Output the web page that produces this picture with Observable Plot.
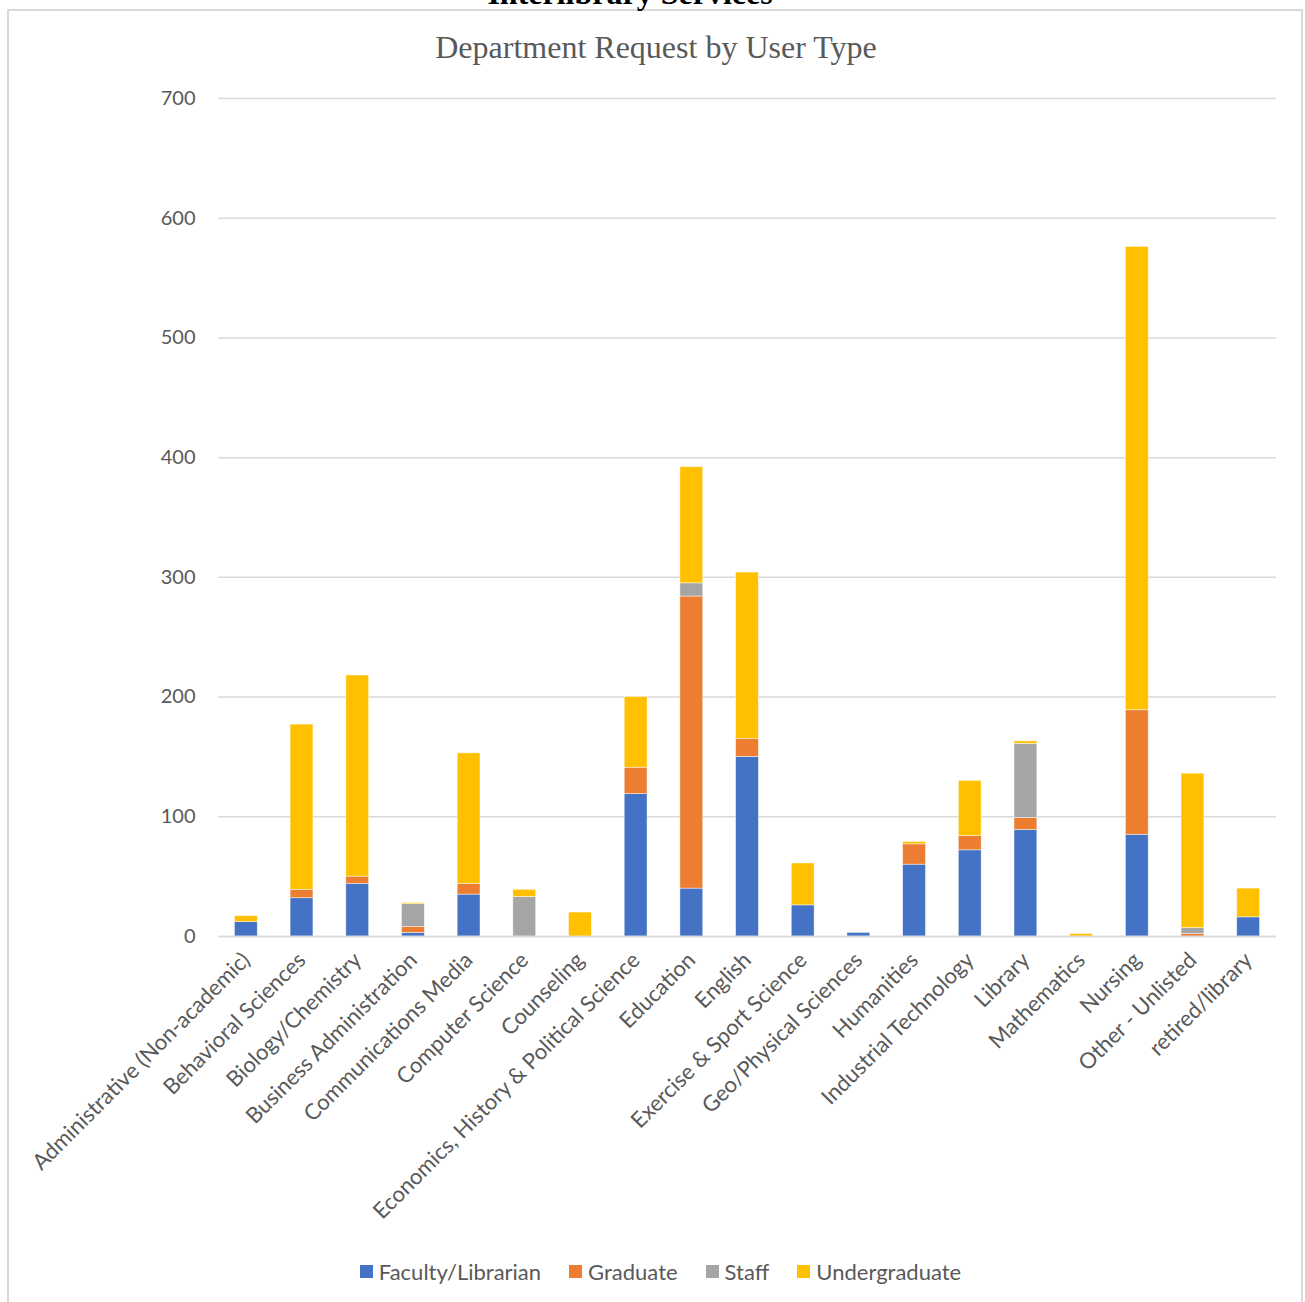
<!DOCTYPE html>
<html>
<head>
<meta charset="utf-8">
<script src="https://cdn.jsdelivr.net/npm/d3@7"></script>
<script src="https://cdn.jsdelivr.net/npm/@observablehq/plot@0.6"></script>
<style>
  html, body { margin: 0; padding: 0; background: #fff; }
  #page { position: relative; width: 1305px; height: 1302px; overflow: hidden; background: #fff; }
  #frame { position: absolute; left: 7px; top: 9px; width: 1296px; height: 1310px; border: 2px solid #d9d9d9; box-sizing: border-box; }
  #supertitle { position: absolute; left: 0; width: 1260px; top: -24px; line-height: 35px; text-align: center;
    font-family: "Liberation Serif", serif; font-weight: bold; font-size: 32px; color: #000; }
  #title { position: absolute; left: 0; width: 1312px; top: 29px; line-height: 36px; text-align: center;
    font-family: "Liberation Serif", serif; font-size: 32px; color: #595959; }
  #chart { position: absolute; left: 0; top: 0; }
  #legend { position: absolute; left: 0; width: 1321px; top: 1258px; display: flex; justify-content: center; gap: 28px;
    font-family: Lato, sans-serif; font-size: 22px; color: #595959; }
  .item { display: flex; align-items: center; gap: 6px; }
  .sw { width: 13px; height: 13px; display: inline-block; }
</style>
</head>
<body>
<div id="page">
  <div id="frame"></div>
  <div id="supertitle">Interlibrary Services</div>
  <div id="title">Department Request by User Type</div>
  <div id="chart"></div>
  <div id="legend"></div>
</div>
<script>
const depts = [
  "Administrative (Non-academic)", "Behavioral Sciences", "Biology/Chemistry", "Business Administration",
  "Communications Media", "Computer Science", "Counseling", "Economics, History & Political Science",
  "Education", "English", "Exercise & Sport Science", "Geo/Physical Sciences", "Humanities",
  "Industrial Technology", "Library", "Mathematics", "Nursing", "Other - Unlisted", "retired/library"
];
const types = ["Faculty/Librarian", "Graduate", "Staff", "Undergraduate"];
const colors = ["#4472C4", "#ED7D31", "#A5A5A5", "#FFC000"];
const faculty   = [12, 32, 44, 3, 35, 0, 0, 119, 40, 150, 26, 3, 60, 72, 89, 0, 85, 0, 16];
const graduate  = [0, 7, 6, 5, 9, 0, 0, 22, 244, 15, 0, 0, 17, 12, 10, 0, 104, 2, 0];
const staff     = [0, 0, 0, 19, 0, 33, 0, 0, 11, 0, 0, 0, 0, 0, 62, 0, 0, 5, 0];
const undergrad = [5, 138, 168, 1, 109, 6, 20, 59, 97, 139, 35, 0, 2, 46, 2, 2, 387, 129, 24];
const yTicks = [0, 100, 200, 300, 400, 500, 600, 700];

const series = [faculty, graduate, staff, undergrad];
const data = depts.flatMap((d, i) => types.map((t, j) => ({dept: d, type: t, value: series[j][i]})));

const chart = Plot.plot({
  width: 1305,
  height: 1245,
  marginTop: 98,
  marginLeft: 218,
  marginRight: 29,
  marginBottom: 309,
  x: {domain: depts, paddingInner: 0.59, paddingOuter: 0.295, round: false, label: null},
  y: {domain: [0, 700], label: null},
  color: {domain: types, range: colors},
  style: {fontFamily: "Lato, sans-serif", fontSize: "20px", color: "#595959", background: "transparent", overflow: "visible"},
  marks: [
    Plot.gridY(yTicks, {stroke: "#d9d9d9", strokeOpacity: 1, strokeWidth: 1.5}),
    Plot.axisY(yTicks, {tickSize: 0, tickPadding: 23, fontSize: 20, fill: "#595959", label: null}),
    Plot.axisX({tickSize: 0, tickRotate: -45, tickPadding: 20, fontSize: 22, fill: "#595959", label: null}),
    Plot.barY(data, {x: "dept", y: "value", fill: "type", order: types, stroke: "white", strokeWidth: 0.75, strokeOpacity: 0.6}),
    Plot.ruleY([0], {stroke: "#d9d9d9", strokeWidth: 1.5})
  ]
});
document.getElementById("chart").appendChild(chart);

const legend = document.getElementById("legend");
types.forEach((t, i) => {
  const it = document.createElement("div");
  it.className = "item";
  const sw = document.createElement("span");
  sw.className = "sw";
  sw.style.background = colors[i];
  const lb = document.createElement("span");
  lb.textContent = t;
  it.appendChild(sw);
  it.appendChild(lb);
  legend.appendChild(it);
});
</script>
</body>
</html>
